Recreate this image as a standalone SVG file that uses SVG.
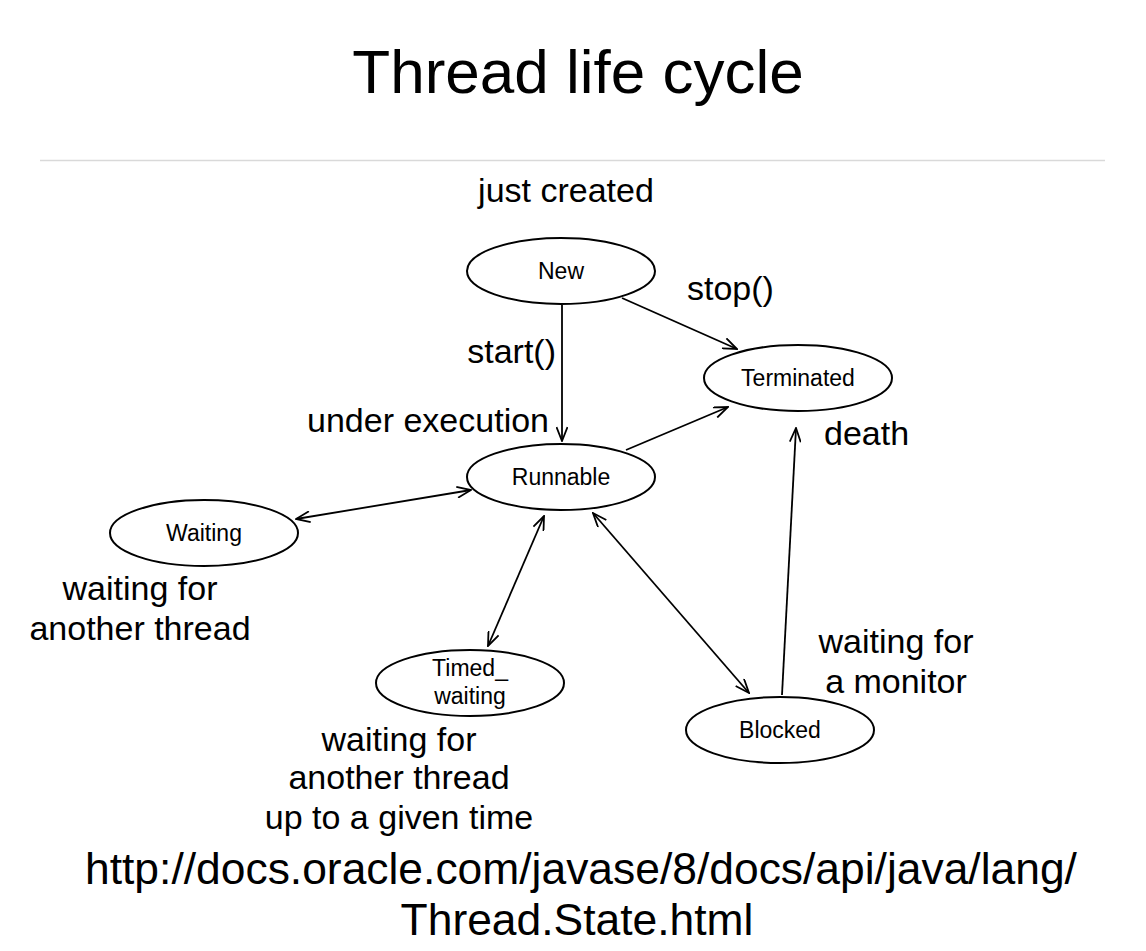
<svg xmlns="http://www.w3.org/2000/svg" width="1146" height="951" viewBox="0 0 1146 951">
  <defs>
    <marker id="arrow" viewBox="0 0 16 12" markerWidth="16" markerHeight="12" refX="15" refY="6" markerUnits="userSpaceOnUse" orient="auto-start-reverse">
      <path d="M1,0.5 L15,6 L1,11.5" fill="none" stroke="#000" stroke-width="1.8"/>
    </marker>
  </defs>
  <style>
    .state { fill: #fff; stroke: #000; stroke-width: 2; }
    .label { font-family: "Liberation Sans", Arial, sans-serif; font-size: 23px; fill: #000; text-anchor: middle; }
    .note { font-family: "Liberation Sans", Arial, sans-serif; font-size: 34px; fill: #000; }
    .edge { stroke: #000; stroke-width: 1.8; fill: none; }
    .title { font-family: "Liberation Sans", Arial, sans-serif; font-size: 62px; fill: #000; text-anchor: middle; }
    .url { font-family: "Liberation Sans", Arial, sans-serif; font-size: 44.4px; fill: #000; text-anchor: middle; }
  </style>
  <rect width="1146" height="951" fill="#fff"/>

  <text class="title" x="578" y="93">Thread life cycle</text>
  <line x1="40" y1="160.5" x2="1105" y2="160.5" stroke="#d9d9d9" stroke-width="1.5"/>

  <!-- transitions -->
  <g id="connectors">
    <line class="edge" x1="562" y1="305" x2="562" y2="441" marker-end="url(#arrow)"/>
    <line class="edge" x1="622" y1="298" x2="737" y2="349" marker-end="url(#arrow)"/>
    <line class="edge" x1="626" y1="450" x2="728" y2="407" marker-end="url(#arrow)"/>
    <line class="edge" x1="296" y1="519" x2="471" y2="490" marker-start="url(#arrow)" marker-end="url(#arrow)"/>
    <line class="edge" x1="544" y1="516" x2="488" y2="646" marker-start="url(#arrow)" marker-end="url(#arrow)"/>
    <line class="edge" x1="593" y1="513" x2="749" y2="693" marker-start="url(#arrow)" marker-end="url(#arrow)"/>
    <line class="edge" x1="782" y1="695" x2="796" y2="428" marker-end="url(#arrow)"/>
  </g>

  <g id="node-new">
    <ellipse class="state" cx="561" cy="271" rx="94" ry="33"/>
    <text class="label" x="561" y="279">New</text>
  </g>
  <g id="node-terminated">
    <ellipse class="state" cx="798" cy="378" rx="94" ry="33"/>
    <text class="label" x="798" y="386">Terminated</text>
  </g>
  <g id="node-runnable">
    <ellipse class="state" cx="561" cy="477" rx="94" ry="33"/>
    <text class="label" x="561" y="485">Runnable</text>
  </g>
  <g id="node-waiting">
    <ellipse class="state" cx="204" cy="533" rx="94" ry="33"/>
    <text class="label" x="204" y="541">Waiting</text>
  </g>
  <g id="node-timed-waiting">
    <ellipse class="state" cx="470" cy="683" rx="94" ry="33"/>
    <text class="label" x="470" y="676">Timed_</text>
    <text class="label" x="470" y="704">waiting</text>
  </g>
  <g id="node-blocked">
    <ellipse class="state" cx="780" cy="730" rx="94" ry="33"/>
    <text class="label" x="780" y="738">Blocked</text>
  </g>

  <!-- annotations -->
  <g id="annotations">
    <text class="note" x="566" y="202" text-anchor="middle">just created</text>
    <text class="note" x="687" y="300">stop()</text>
    <text class="note" x="556" y="363" text-anchor="end">start()</text>
    <text class="note" x="549" y="432" text-anchor="end">under execution</text>
    <text class="note" x="824" y="445">death</text>
    <text class="note" x="140" y="600" text-anchor="middle">waiting for</text>
    <text class="note" x="140" y="640" text-anchor="middle">another thread</text>
    <text class="note" x="896" y="653" text-anchor="middle">waiting for</text>
    <text class="note" x="896" y="693" text-anchor="middle">a monitor</text>
    <text class="note" x="399" y="751" text-anchor="middle">waiting for</text>
    <text class="note" x="399" y="789" text-anchor="middle">another thread</text>
    <text class="note" x="399" y="829" text-anchor="middle">up to a given time</text>
  </g>

  <text class="url" x="581" y="884">http://docs.oracle.com/javase/8/docs/api/java/lang/</text>
  <text class="url" x="577" y="935">Thread.State.html</text>
</svg>
